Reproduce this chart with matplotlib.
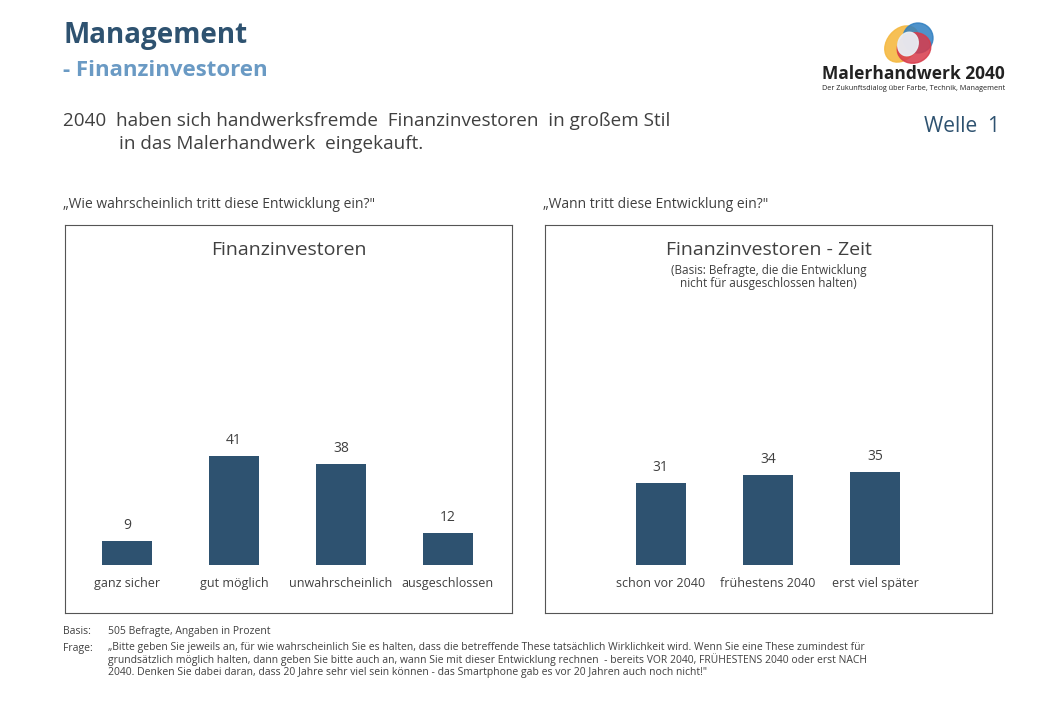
import matplotlib.pyplot as plt
from matplotlib.patches import Ellipse

plt.rcParams['font.family'] = ['Open Sans', 'DejaVu Sans']

cats_l = ["ganz sicher", "gut möglich", "unwahrscheinlich", "ausgeschlossen"]
vals_l = [9, 41, 38, 12]
cats_r = ["schon vor 2040", "frühestens 2040", "erst viel später"]
vals_r = [31, 34, 35]

bar_c = "#2e5270"
txt = "#404040"
W, H = 1040, 720

fig = plt.figure(figsize=(10.4, 7.2), dpi=100)

def px(x, y):
    return x / W, 1 - y / H

fig.text(*px(63, 35), "Management", fontsize=20, fontweight="bold", color="#2e5270", va="center")
fig.text(*px(63, 70), "- Finanzinvestoren", fontsize=16, fontweight="bold", color="#6a9ac4", va="center")
fig.text(*px(63, 121), "2040  haben sich handwerksfremde  Finanzinvestoren  in großem Stil", fontsize=13.6, color=txt, va="center")
fig.text(*px(119, 144), "in das Malerhandwerk  eingekauft.", fontsize=13.6, color=txt, va="center")
fig.text(*px(1000, 127), "Welle  1", fontsize=15, color="#2e5270", va="center", ha="right")
fig.text(*px(63, 205), "„Wie wahrscheinlich tritt diese Entwicklung ein?\"", fontsize=10, color=txt, va="center")
fig.text(*px(543, 205), "„Wann tritt diese Entwicklung ein?\"", fontsize=10, color=txt, va="center")

# logo
lax = fig.add_axes([880 / W, 1 - 68 / H, 60 / W, 48 / H])
lax.set_xlim(0, 60); lax.set_ylim(0, 48); lax.axis("off")
lax.add_patch(Ellipse((22, 24), 30, 40, angle=-40, color="#f5b942", alpha=0.9))
lax.add_patch(Ellipse((38, 30), 30, 30, angle=0, color="#2f7fc1", alpha=0.85))
lax.add_patch(Ellipse((34, 20), 34, 30, angle=20, color="#d83a4a", alpha=0.85))
lax.add_patch(Ellipse((28, 24), 20, 24, angle=-20, color="#e8eef4", alpha=0.95))
fig.text(*px(1005, 74), "Malerhandwerk 2040", fontsize=12.5, fontweight="bold", color="#222222", va="center", ha="right")
fig.text(*px(1005, 89), "Der Zukunftsdialog über Farbe, Technik, Management", fontsize=5.2, color="#222222", va="center", ha="right")

def panel(x0, cats, vals, xlim, title, sub=None):
    ax = fig.add_axes([x0 / W, 107 / H, 447 / W, 388 / H])
    xs = range(len(cats))
    ax.bar(xs, vals, width=0.47, color=bar_c)
    for x, v, c in zip(xs, vals, cats):
        ax.text(x, v + 3, str(v), ha="center", va="bottom", fontsize=10, color=txt)
        ax.text(x, -7.1, c, ha="center", va="center", fontsize=9, color=txt)
    ax.set_xlim(*xlim)
    ax.set_ylim(-18, 127.8)
    ax.set_xticks([]); ax.set_yticks([])
    for s in ax.spines.values():
        s.set_color("#555555"); s.set_linewidth(0.8)
    ax.text(0.5, 0.935, title, transform=ax.transAxes, ha="center", va="center", fontsize=14, color=txt)
    if sub:
        ax.text(0.5, 0.865, sub, transform=ax.transAxes, ha="center", va="center", fontsize=8.5, color=txt, linespacing=1.0)

panel(65, cats_l, vals_l, (-0.58, 3.6), "Finanzinvestoren")
panel(545, cats_r, vals_r, (-1.08, 3.09), "Finanzinvestoren - Zeit",
      "(Basis: Befragte, die die Entwicklung\nnicht für ausgeschlossen halten)")

fs = 7.5
fig.text(*px(63, 634), "Basis:", fontsize=fs, color=txt, va="baseline")
fig.text(*px(108, 634), "505 Befragte, Angaben in Prozent", fontsize=fs, color=txt, va="baseline")
fig.text(*px(63, 651), "Frage:", fontsize=fs, color=txt, va="baseline")
frage = ("„Bitte geben Sie jeweils an, für wie wahrscheinlich Sie es halten, dass die betreffende These tatsächlich Wirklichkeit wird. Wenn Sie eine These zumindest für\n"
         "grundsätzlich möglich halten, dann geben Sie bitte auch an, wann Sie mit dieser Entwicklung rechnen  - bereits VOR 2040, FRÜHESTENS 2040 oder erst NACH\n"
         "2040. Denken Sie dabei daran, dass 20 Jahre sehr viel sein können - das Smartphone gab es vor 20 Jahren auch noch nicht!\"")
fig.text(*px(108, 642), frage, fontsize=fs, color=txt, va="top", linespacing=1.05)

fig.savefig("out.png", dpi=100, facecolor="white")
